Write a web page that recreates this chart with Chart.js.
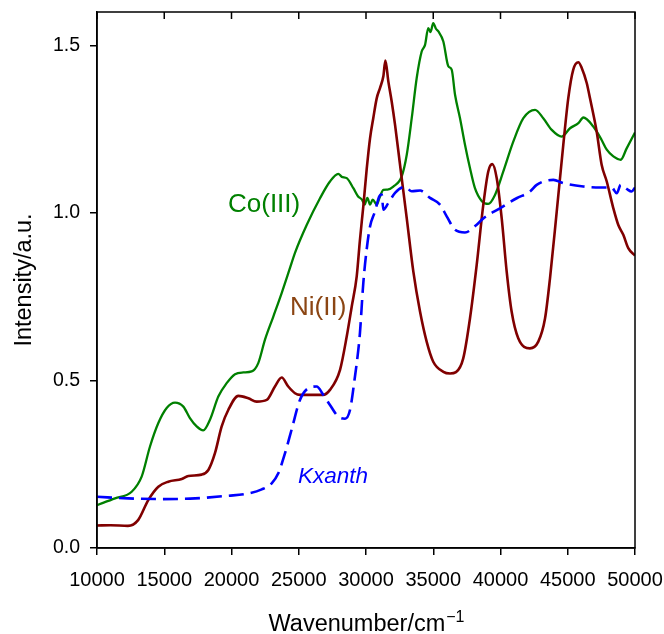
<!DOCTYPE html>
<html>
<head>
<meta charset="utf-8">
<script src="https://cdn.jsdelivr.net/npm/chart.js@4.4.1/dist/chart.umd.min.js"></script>
<style>
    body { margin: 0; background: #fff; }
    #wrap { width: 664px; height: 634px; }
</style>
</head>
<body>
<div id="wrap"><canvas id="spectraChart" width="664" height="634"></canvas></div>
<script>
// wavenumber ticks and intensity ticks
const xTicks = [10000, 15000, 20000, 25000, 30000, 35000, 40000, 45000, 50000];
const yTicks = [0, 0.5, 1.0, 1.5];

const seriesNames = ['Ni(II)', 'Co(III)', 'Kxanth'];

// Ni(II) spectrum
const niX = [10000, 11000, 12300, 13070, 13810, 14560, 15300, 16300, 16790, 17780, 18280, 18770, 19270, 19760, 20510, 21250, 21870, 22620, 23230, 23730, 24220, 24720, 25090, 25840, 26800, 27320, 28070, 28570, 28940, 29310, 29550, 29800, 30050, 30300, 30540, 30800, 31040, 31290, 31440, 31660, 31910, 32160, 32530, 33030, 33520, 34020, 34510, 35000, 35750, 36250, 36690, 37230, 37730, 38230, 38720, 39090, 39390, 39720, 40090, 40460, 40830, 41320, 42190, 42810, 43310, 43680, 44180, 44670, 45040, 45410, 45790, 46040, 46410, 46650, 47150, 47520, 47900, 48390, 48760, 49130, 49500, 50000];
const niY = [0.067, 0.068, 0.066, 0.084, 0.143, 0.183, 0.198, 0.206, 0.215, 0.219, 0.233, 0.283, 0.363, 0.412, 0.454, 0.447, 0.437, 0.442, 0.482, 0.509, 0.482, 0.462, 0.457, 0.457, 0.457, 0.472, 0.532, 0.632, 0.721, 0.811, 0.92, 1.02, 1.13, 1.223, 1.283, 1.343, 1.373, 1.408, 1.455, 1.393, 1.333, 1.263, 1.144, 0.984, 0.825, 0.705, 0.616, 0.556, 0.526, 0.521, 0.525, 0.566, 0.685, 0.845, 1.024, 1.124, 1.146, 1.104, 0.984, 0.825, 0.705, 0.626, 0.596, 0.616, 0.685, 0.805, 1.004, 1.204, 1.343, 1.428, 1.450, 1.433, 1.388, 1.343, 1.243, 1.144, 1.094, 1.014, 0.964, 0.935, 0.895, 0.873];

// Co(III) spectrum
const coX = [10000, 11340, 12580, 13320, 13940, 14560, 15180, 15800, 16420, 16910, 17410, 17900, 18400, 19020, 19640, 20260, 20880, 21500, 21990, 22490, 23110, 23730, 24350, 24720, 25590, 26580, 27320, 27940, 28200, 28570, 29060, 29400, 29700, 29900, 30100, 30300, 30500, 30800, 31000, 31290, 31600, 32030, 32650, 33030, 33400, 33770, 34140, 34390, 34630, 34800, 35000, 35200, 35380, 35750, 36120, 36370, 36620, 36990, 37360, 37730, 38100, 38600, 39090, 39590, 40210, 40950, 41700, 42570, 43180, 43810, 44550, 45170, 45790, 46160, 46900, 47520, 47900, 48390, 48940, 49380, 50000];
const coY = [0.128, 0.148, 0.168, 0.213, 0.303, 0.373, 0.418, 0.434, 0.422, 0.388, 0.363, 0.351, 0.383, 0.452, 0.492, 0.519, 0.524, 0.527, 0.552, 0.622, 0.691, 0.761, 0.836, 0.881, 0.964, 1.044, 1.094, 1.117, 1.108, 1.104, 1.074, 1.05, 1.04, 1.025, 1.045, 1.025, 1.04, 1.025, 1.045, 1.069, 1.07, 1.079, 1.109, 1.174, 1.283, 1.403, 1.482, 1.502, 1.552, 1.54, 1.567, 1.55, 1.542, 1.512, 1.438, 1.428, 1.353, 1.283, 1.204, 1.134, 1.074, 1.036, 1.027, 1.054, 1.124, 1.213, 1.283, 1.308, 1.283, 1.248, 1.228, 1.253, 1.268, 1.285, 1.258, 1.218, 1.189, 1.169, 1.159, 1.193, 1.24];

// Kxanth spectrum
const kxX = [10000, 12330, 14810, 17290, 19760, 21000, 22250, 22990, 23480, 23980, 24480, 25090, 25710, 26330, 26830, 27320, 27940, 28440, 28810, 29180, 29430, 29550, 29800, 30050, 30300, 30670, 30990, 31170, 31290, 31660, 32160, 32900, 33400, 34020, 34760, 35500, 36000, 36620, 37360, 38230, 38720, 39960, 41200, 42190, 42690, 43930, 44670, 46160, 47400, 48270, 48640, 48940, 49380, 49750, 50000];
const kxY = [0.153, 0.148, 0.146, 0.148, 0.156, 0.161, 0.175, 0.193, 0.223, 0.283, 0.355, 0.442, 0.477, 0.482, 0.457, 0.427, 0.392, 0.386, 0.412, 0.512, 0.592, 0.642, 0.791, 0.891, 0.960, 1.005, 1.050, 1.055, 1.010, 1.030, 1.060, 1.078, 1.065, 1.067, 1.045, 1.025, 0.990, 0.950, 0.942, 0.965, 0.984, 1.014, 1.044, 1.064, 1.084, 1.099, 1.089, 1.079, 1.076, 1.076, 1.059, 1.084, 1.072, 1.064, 1.076];

const FONT = "'Liberation Sans', Arial, Helvetica, sans-serif";

function toPoints(xs, ys) {
    return xs.map((x, i) => ({ x: x, y: ys[i] }));
}

// in-plot labels, anchored in data units
const curveLabels = [
    { text: seriesNames[1], x: 19740, y: 1.004, color: '#008000', font: '26px ' + FONT },
    { text: seriesNames[0], x: 24350, y: 0.696, color: '#8B4513', font: '26px ' + FONT },
    { text: seriesNames[2], x: 24945, y: 0.194, color: '#0000FF', font: 'italic 22.5px ' + FONT }
];

const framePlugin = {
    id: 'frame',
    afterDraw(chart) {
        const { ctx, chartArea: a, scales } = chart;
        ctx.save();

        // box and inward ticks on the top edge
        ctx.strokeStyle = '#000';
        ctx.lineWidth = 1.5;
        ctx.strokeRect(a.left, a.top, a.right - a.left, a.bottom - a.top);
        ctx.beginPath();
        xTicks.forEach(v => {
            const px = scales.x.getPixelForValue(v);
            ctx.moveTo(px, a.top);
            ctx.lineTo(px, a.top + 7);
        });
        ctx.stroke();

        // curve labels
        ctx.textAlign = 'left';
        ctx.textBaseline = 'alphabetic';
        curveLabels.forEach(l => {
            ctx.font = l.font;
            ctx.fillStyle = l.color;
            ctx.fillText(l.text, scales.x.getPixelForValue(l.x), scales.y.getPixelForValue(l.y));
        });

        // x title with superscript
        ctx.fillStyle = '#000';
        const main = 'Wavenumber/cm';
        const sup = '\u22121';
        ctx.font = '23.5px ' + FONT;
        const wMain = ctx.measureText(main).width;
        ctx.font = '16px ' + FONT;
        const wSup = ctx.measureText(sup).width;
        const x0 = (a.left + a.right) / 2 - (wMain + wSup) / 2;
        ctx.font = '23.5px ' + FONT;
        ctx.fillText(main, x0, 631);
        ctx.font = '16px ' + FONT;
        ctx.fillText(sup, x0 + wMain + 1, 622);

        // y title
        ctx.translate(31, (a.top + a.bottom) / 2);
        ctx.rotate(-Math.PI / 2);
        ctx.textAlign = 'center';
        ctx.font = '23.5px ' + FONT;
        ctx.fillText('Intensity/a.u.', 0, 0);

        ctx.restore();
    }
};

const ctx = document.getElementById('spectraChart');

new Chart(ctx, {
    type: 'line',
    data: {
        datasets: [
            {
                label: seriesNames[2],
                data: toPoints(kxX, kxY),
                borderColor: '#0000FF',
                borderWidth: 2.6,
                borderDash: [15, 7],
                cubicInterpolationMode: 'monotone',
                fill: false
            },
            {
                label: seriesNames[0],
                data: toPoints(niX, niY),
                borderColor: '#800000',
                borderWidth: 2.6,
                cubicInterpolationMode: 'monotone',
                fill: false
            },
            {
                label: seriesNames[1],
                data: toPoints(coX, coY),
                borderColor: '#008000',
                borderWidth: 2.3,
                cubicInterpolationMode: 'monotone',
                fill: false
            }
        ]
    },
    options: {
        responsive: false,
        animation: false,
        layout: { padding: { left: 0, right: 29, top: 12, bottom: 0 } },
        elements: { point: { radius: 0 } },
        plugins: {
            legend: { display: false },
            tooltip: { enabled: false }
        },
        scales: {
            x: {
                type: 'linear',
                min: 10000,
                max: 50000,
                afterBuildTicks: s => { s.ticks = xTicks.map(v => ({ value: v })); },
                afterFit: s => { s.height = 86; s.paddingLeft = 0; s.paddingRight = 0; },
                ticks: {
                    color: '#000',
                    font: { family: FONT, size: 20 },
                    padding: 13,
                    maxRotation: 0,
                    autoSkip: false,
                    callback: v => String(v)
                },
                grid: { display: true, drawOnChartArea: false, drawTicks: true, tickLength: 7, color: '#000', lineWidth: 1.5 },
                border: { display: true, color: '#000', width: 1.5 }
            },
            y: {
                type: 'linear',
                min: 0,
                max: 1.6,
                afterBuildTicks: s => { s.ticks = yTicks.map(v => ({ value: v })); },
                afterFit: s => { s.width = 97; s.paddingTop = 0; s.paddingBottom = 0; },
                ticks: {
                    color: '#000',
                    font: { family: FONT, size: 19.5 },
                    padding: 10,
                    callback: v => Number(v).toFixed(1)
                },
                grid: { display: true, drawOnChartArea: false, drawTicks: true, tickLength: 7, color: '#000', lineWidth: 1.5 },
                border: { display: true, color: '#000', width: 1.5 }
            }
        }
    },
    plugins: [framePlugin]
});
</script>
</body>
</html>
